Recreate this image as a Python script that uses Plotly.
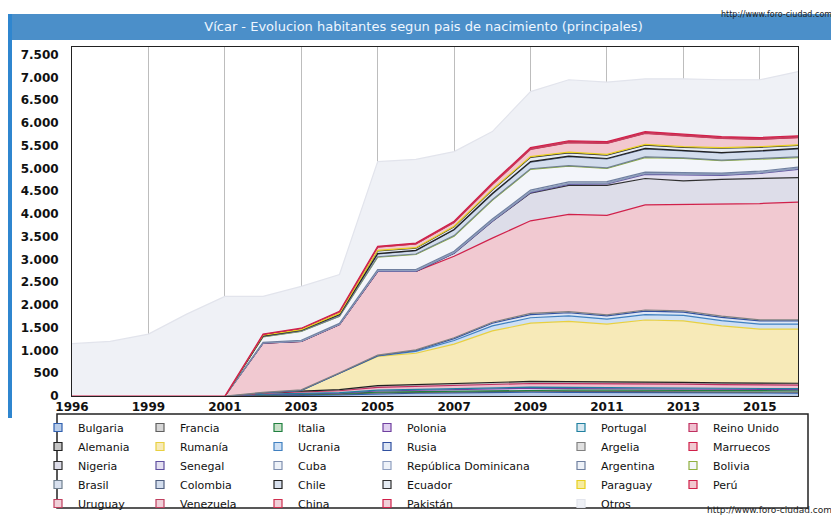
import plotly.graph_objects as go

# Categories (no 1997 in the padron series)
years = ["1996", "1998", "1999", "2000", "2001", "2002", "2003", "2004", "2005", "2006",
         "2007", "2008", "2009", "2010", "2011", "2012", "2013", "2014", "2015", "2016"]
year_ticks = ["1996", "1999", "2001", "2003", "2005", "2007", "2009", "2011", "2013", "2015"]
y_ticks = [0, 500, 1000, 1500, 2000, 2500, 3000, 3500, 4000, 4500, 5000, 5500, 6000, 6500, 7000, 7500]

# Habitantes por pais de nacimiento
bulgaria = [0, 0, 0, 0, 0, 10, 15, 25, 50, 60, 70, 80, 85, 80, 80, 75, 70, 70, 65, 65]
francia = [0, 0, 0, 0, 0, 10, 15, 15, 20, 20, 20, 20, 20, 20, 20, 20, 20, 20, 20, 20]
italia = [0, 0, 0, 0, 0, 5, 10, 10, 15, 15, 20, 25, 30, 30, 30, 30, 30, 30, 30, 30]
polonia = [0, 0, 0, 0, 0, 5, 5, 10, 25, 30, 30, 35, 35, 35, 30, 30, 30, 25, 25, 25]
portugal = [0, 0, 0, 0, 0, 10, 10, 15, 20, 20, 20, 20, 25, 25, 25, 25, 25, 25, 20, 20]
reino_unido = [0, 0, 0, 0, 0, 20, 30, 40, 60, 65, 70, 75, 80, 80, 85, 85, 85, 80, 80, 80]
alemania = [0, 0, 0, 0, 0, 15, 20, 25, 40, 45, 45, 45, 45, 45, 45, 40, 40, 40, 40, 40]
rumania = [0, 0, 0, 0, 0, 0, 20, 360, 640, 685, 865, 1130, 1280, 1325, 1265, 1365, 1350, 1250, 1190, 1190]
ucrania = [0, 0, 0, 0, 0, 0, 0, 0, 10, 40, 80, 110, 120, 120, 110, 120, 120, 115, 110, 110]
rusia = [0, 0, 0, 0, 0, 0, 0, 0, 5, 20, 40, 60, 70, 70, 70, 75, 75, 75, 70, 70]
argelia = [0, 0, 0, 0, 0, 5, 10, 10, 15, 15, 20, 20, 25, 25, 25, 25, 25, 25, 25, 25]
marruecos = [0, 0, 0, 0, 0, 1080, 1065, 1060, 1840, 1725, 1790, 1850, 2035, 2135, 2185, 2310, 2340, 2455, 2555, 2585]
nigeria = [0, 0, 0, 0, 0, 0, 0, 0, 0, 0, 70, 370, 610, 640, 660, 580, 520, 550, 550, 540]
senegal = [0, 0, 0, 0, 0, 0, 0, 0, 0, 0, 0, 0, 10, 20, 30, 90, 130, 90, 110, 180]
cuba = [0, 0, 0, 0, 0, 5, 5, 5, 10, 10, 10, 10, 15, 15, 15, 15, 15, 15, 15, 15]
rep_dominicana = [0, 0, 0, 0, 0, 5, 5, 5, 10, 10, 10, 15, 15, 15, 15, 15, 15, 15, 15, 15]
argentina = [0, 0, 0, 0, 0, 10, 15, 15, 20, 20, 20, 25, 25, 25, 20, 20, 20, 20, 20, 20]
bolivia = [0, 0, 0, 0, 0, 120, 195, 155, 270, 330, 330, 410, 455, 345, 290, 320, 310, 270, 260, 210]
brasil = [0, 0, 0, 0, 0, 5, 5, 5, 10, 10, 15, 15, 15, 15, 15, 15, 15, 15, 15, 15]
colombia = [0, 0, 0, 0, 0, 15, 20, 30, 65, 75, 130, 125, 145, 195, 195, 175, 145, 155, 165, 175]
chile = [0, 0, 0, 0, 0, 0, 0, 5, 5, 5, 5, 10, 10, 10, 10, 10, 10, 10, 10, 10]
ecuador = [0, 0, 0, 0, 0, 15, 15, 20, 60, 50, 60, 75, 95, 75, 75, 75, 75, 95, 75, 65]
paraguay = [0, 0, 0, 0, 0, 0, 0, 5, 10, 10, 10, 15, 15, 15, 15, 15, 15, 15, 15, 15]
peru = [0, 0, 0, 0, 0, 25, 30, 35, 70, 80, 85, 105, 160, 210, 240, 240, 240, 200, 160, 160]
uruguay = [0, 0, 0, 0, 0, 0, 0, 0, 5, 5, 5, 5, 5, 5, 5, 5, 5, 5, 5, 5]
venezuela = [0, 0, 0, 0, 0, 0, 0, 5, 5, 5, 5, 10, 10, 10, 10, 10, 10, 10, 10, 10]
china = [0, 0, 0, 0, 0, 0, 0, 5, 5, 5, 10, 10, 15, 15, 15, 15, 15, 15, 15, 15]
pakistan = [0, 0, 0, 0, 0, 0, 0, 0, 5, 5, 5, 10, 10, 10, 10, 10, 10, 10, 10, 10]
otros = [1150, 1200, 1360, 1800, 2190, 830, 920, 810, 1860, 1840, 1530, 1130, 1230, 1340, 1310, 1160, 1210, 1250, 1270, 1410]

# (name, values, fill colour, line colour) - stacking order bottom to top
series = [
    ("Bulgaria", bulgaria, "#b8cce8", "#3060b0"),
    ("Francia", francia, "#d6d6d6", "#606060"),
    ("Italia", italia, "#c8e0c8", "#208040"),
    ("Polonia", polonia, "#e0d0f0", "#7040a0"),
    ("Portugal", portugal, "#d8e8f0", "#2080a0"),
    ("Reino Unido", reino_unido, "#f0c0d0", "#c03060"),
    ("Alemania", alemania, "#c4c4c4", "#202020"),
    ("Rumanía", rumania, "#f7eab8", "#e8d040"),
    ("Ucrania", ucrania, "#cfe0f4", "#4080c0"),
    ("Rusia", rusia, "#dde6f4", "#3050a0"),
    ("Argelia", argelia, "#e0e0e0", "#808080"),
    ("Marruecos", marruecos, "#f1c9d1", "#d0204a"),
    ("Nigeria", nigeria, "#dddde9", "#303030"),
    ("Senegal", senegal, "#e4e0f0", "#6050a0"),
    ("Cuba", cuba, "#eef2f8", "#8090b0"),
    ("República Dominicana", rep_dominicana, "#eef2f8", "#90a0c0"),
    ("Argentina", argentina, "#eef2f8", "#7080a0"),
    ("Bolivia", bolivia, "#f3f5fa", "#90b040"),
    ("Brasil", brasil, "#d8e0ee", "#708090"),
    ("Colombia", colombia, "#d3dded", "#506080"),
    ("Chile", chile, "#d8e0ee", "#202020"),
    ("Ecuador", ecuador, "#e6ecf4", "#303030"),
    ("Paraguay", paraguay, "#f6eca0", "#e8d020"),
    ("Perú", peru, "#f2c8d0", "#d0204a"),
    ("Uruguay", uruguay, "#f0d0d8", "#c04060"),
    ("Venezuela", venezuela, "#f0d0d8", "#c04060"),
    ("China", china, "#f0d0d8", "#d03050"),
    ("Pakistán", pakistan, "#f0d0d8", "#d0204a"),
    ("Otros", otros, "#eff1f6", "#e2e4ec"),
]

# the page puts the figure 8px in from the window corner;
# helpers below take window pixels (plot area x 72..798, y 47..396)
OFF = 8

def px_x(p):
    return (p - 72) / 726.0

def px_y(p):
    return (396 - p) / 349.0

fig = go.Figure()

for name, vals, fill, line in series:
    fig.add_trace(go.Scatter(x=years, y=vals, name=name, mode="lines", stackgroup="one",
                             fillcolor=fill, line=dict(color=line, width=1.2),
                             showlegend=False, hoverinfo="x+y+name"))

# legend entries, six columns filled row by row
legend_text_x = [78, 180, 298, 407, 601, 713]
for i, (name, vals, fill, line) in enumerate(series):
    col = i % 6
    fig.add_trace(go.Scatter(x=[None], y=[None], name=name, mode="markers",
                             marker=dict(symbol="square", size=8, color=fill,
                                         line=dict(color=line, width=1.2)),
                             legend="legend" if col == 0 else "legend%d" % (col + 1)))

legend_font = dict(family="DejaVu Sans", size=11, color="#111111")
legends = {}
for col, tx in enumerate(legend_text_x):
    key = "legend" if col == 0 else "legend%d" % (col + 1)
    legends[key] = dict(x=px_x(tx - 40), y=px_y(413), xanchor="left", yanchor="top",
                        orientation="v", bgcolor="rgba(0,0,0,0)", borderwidth=0,
                        font=legend_font, traceorder="normal")

W, H = 839 - OFF, 516 - OFF
fig.update_layout(
    width=W, height=H,
    margin=dict(l=72 - OFF, r=W - (798 - OFF), t=47 - OFF, b=H - (396 - OFF), autoexpand=False),
    paper_bgcolor="white", plot_bgcolor="white",
    separators=",.",
    title=dict(text="Vícar - Evolucion habitantes segun pais de nacimiento (principales)",
               x=0.5, xanchor="center", y=1 - (26 - OFF) / H, yanchor="middle",
               font=dict(family="DejaVu Sans", size=13, color="#eef6ff")),
    xaxis=dict(type="category", range=[0, 19], tickvals=year_ticks, ticktext=year_ticks,
               showgrid=True, gridcolor="#bdbdbd", gridwidth=1,
               showline=True, linecolor="#222222", linewidth=1, mirror=True,
               ticks="", tickfont=dict(family="DejaVu Sans", size=12, color="#111111", weight="bold")),
    yaxis=dict(range=[0, 7670], tickvals=y_ticks, tickformat=",d",
               showgrid=False, zeroline=False,
               showline=True, linecolor="#222222", linewidth=1, mirror=True,
               ticks="", ticklabelstandoff=10,
               tickfont=dict(family="DejaVu Sans", size=12, color="#111111", weight="bold")),
    shapes=[
        # blue title bar and left strip
        dict(type="rect", xref="paper", yref="paper", x0=px_x(8), x1=px_x(839), y0=px_y(40), y1=px_y(14),
             fillcolor="#4b8fc9", line=dict(width=0), layer="below"),
        dict(type="rect", xref="paper", yref="paper", x0=px_x(8), x1=px_x(12), y0=px_y(418), y1=px_y(14),
             fillcolor="#2f86cf", line=dict(width=0), layer="below"),
        # legend frame
        dict(type="rect", xref="paper", yref="paper", x0=px_x(57), x1=px_x(808), y0=px_y(508), y1=px_y(414),
             fillcolor="rgba(0,0,0,0)", line=dict(color="#222222", width=1.5)),
    ],
    annotations=[
        dict(text="http://www.foro-ciudad.com", xref="paper", yref="paper", x=px_x(834), y=px_y(510),
             xanchor="right", yanchor="middle", showarrow=False,
             font=dict(family="DejaVu Sans", size=9, color="#222222")),
        dict(text="http://www.foro-ciudad.com", xref="paper", yref="paper", x=px_x(834), y=px_y(8),
             xanchor="right", yanchor="top", showarrow=False,
             font=dict(family="DejaVu Sans", size=8, color="#222222")),
    ],
    **legends,
)

fig.write_html("out.html")
